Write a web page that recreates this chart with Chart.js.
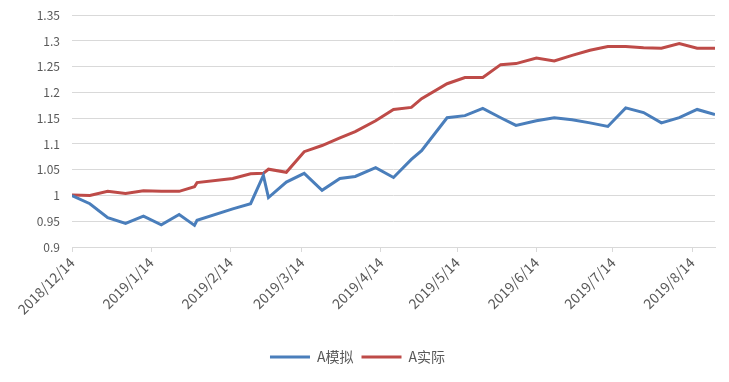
<!DOCTYPE html>
<html>
<head>
<meta charset="utf-8">
<script src="https://cdn.jsdelivr.net/npm/chart.js@4"></script>
<style>
  html, body { margin: 0; padding: 0; background: #fff; }
  #wrap { width: 729px; height: 382px; overflow: hidden; position: relative; }
  #chart { position: absolute; left: 0; top: -4px; }
</style>
</head>
<body>
<div id="wrap"><canvas id="chart" width="729" height="386"></canvas></div>
<script>
// weekly dates (Fridays, with a few holiday shifts)
const dates = [
  "2018/12/14", "2018/12/21", "2018/12/28", "2019/1/4", "2019/1/11", "2019/1/18",
  "2019/1/25", "2019/1/31", "2019/2/1", "2019/2/15", "2019/2/22", "2019/2/27",
  "2019/3/1", "2019/3/8", "2019/3/15", "2019/3/22", "2019/3/29", "2019/4/4",
  "2019/4/12", "2019/4/19", "2019/4/26", "2019/4/30", "2019/5/10", "2019/5/17",
  "2019/5/24", "2019/5/31", "2019/6/6", "2019/6/14", "2019/6/21", "2019/6/28",
  "2019/7/5", "2019/7/12", "2019/7/19", "2019/7/26", "2019/8/2", "2019/8/9",
  "2019/8/16", "2019/8/23"
];
const simValues = [
  1.000, 0.984, 0.957, 0.946, 0.960, 0.943,
  0.963, 0.942, 0.952, 0.974, 0.984, 1.039,
  0.996, 1.026, 1.043, 1.010, 1.033, 1.037,
  1.054, 1.035, 1.070, 1.087, 1.151, 1.155,
  1.169, 1.151, 1.136, 1.145, 1.151, 1.147,
  1.141, 1.134, 1.170, 1.161, 1.141, 1.151,
  1.167, 1.157
];
const actualValues = [
  1.001, 1.000, 1.008, 1.004, 1.009, 1.008,
  1.008, 1.017, 1.025, 1.033, 1.042, 1.043,
  1.051, 1.045, 1.085, 1.097, 1.112, 1.124,
  1.145, 1.167, 1.171, 1.188, 1.217, 1.229,
  1.229, 1.254, 1.256, 1.267, 1.261, 1.272,
  1.282, 1.289, 1.289, 1.287, 1.286, 1.295,
  1.286, 1.286
];
const tickDates = [
  "2018/12/14", "2019/1/14", "2019/2/14", "2019/3/14", "2019/4/14",
  "2019/5/14", "2019/6/14", "2019/7/14", "2019/8/14"
];

const DAY = 86400000;
function toUtc(s) {
  const [y, m, d] = s.split("/").map(Number);
  return Date.UTC(y, m - 1, d);
}
const origin = toUtc(dates[0]);
const dayOf = (s) => Math.round((toUtc(s) - origin) / DAY);

const xs = dates.map(dayOf);
const tickDays = tickDates.map(dayOf);
const tickLabel = {};
tickDates.forEach((s, i) => { tickLabel[tickDays[i]] = s; });

const FONT = '"Microsoft YaHei", "Noto Sans CJK SC", sans-serif';
const GRID = "#d9d9d9";
const TEXT = "#595959";

new Chart(document.getElementById("chart").getContext("2d"), {
  type: "line",
  data: {
    datasets: [
      {
        label: "A模拟",
        data: xs.map((x, i) => ({ x: x, y: simValues[i] })),
        borderColor: "#4a7ebb",
        backgroundColor: "#4a7ebb",
        borderWidth: 3,
        pointRadius: 0,
        tension: 0,
      },
      {
        label: "A实际",
        data: xs.map((x, i) => ({ x: x, y: actualValues[i] })),
        borderColor: "#be4b48",
        backgroundColor: "#be4b48",
        borderWidth: 3,
        pointRadius: 0,
        tension: 0,
      },
    ],
  },
  options: {
    responsive: false,
    animation: false,
    layout: { padding: { top: 6, right: 14, left: 0, bottom: 8 } },
    plugins: {
      tooltip: { enabled: false },
      legend: {
        position: "bottom",
        labels: {
          usePointStyle: true,
          pointStyle: "line",
          pointStyleWidth: 40,
          boxWidth: 40,
          color: TEXT,
          font: { family: FONT, size: 14 },
          padding: 8,
        },
      },
    },
    scales: {
      x: {
        type: "linear",
        min: 0,
        max: xs[xs.length - 1],
        afterBuildTicks: (scale) => {
          scale.ticks = tickDays.map((v) => ({ value: v }));
        },
        afterFit: (scale) => { scale.height = 95; },
        ticks: {
          autoSkip: false,
          minRotation: 45,
          maxRotation: 45,
          color: TEXT,
          font: { family: FONT, size: 14 },
          padding: 2,
          callback: (v) => tickLabel[v] || "",
        },
        grid: {
          drawOnChartArea: false,
          drawTicks: true,
          tickLength: 5,
          color: GRID,
        },
        border: { display: true, color: GRID, width: 1 },
      },
      y: {
        min: 0.9,
        max: 1.35,
        afterFit: (scale) => { scale.width = 72; },
        afterBuildTicks: (scale) => {
          const t = [];
          for (let i = 0; i <= 9; i++) t.push({ value: Number((0.9 + i * 0.05).toFixed(2)) });
          scale.ticks = t;
        },
        ticks: {
          color: TEXT,
          font: { family: FONT, size: 12 },
          padding: 12,
          callback: (v) => String(Number(v.toFixed(2))),
        },
        grid: { color: GRID, drawTicks: false },
        border: { display: false },
      },
    },
  },
});
</script>
</body>
</html>
